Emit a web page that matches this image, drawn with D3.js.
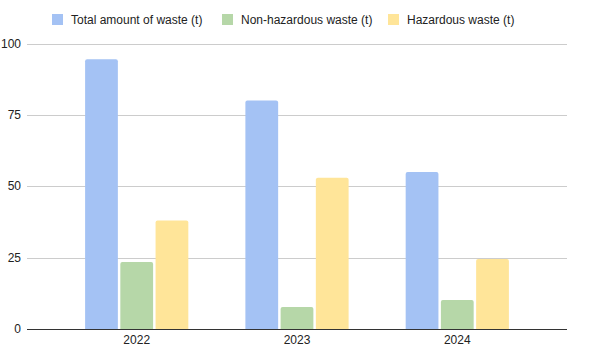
<!DOCTYPE html>
<html><head><meta charset="utf-8">
<script src="https://cdn.jsdelivr.net/npm/d3@7"></script>
<style>body{margin:0;background:#fff;} svg{display:block;font-family:Arial,"Liberation Sans",sans-serif;}</style>
</head><body><svg id="c" width="590" height="357"></svg>
<script>
const categories = ["2022", "2023", "2024"];
const seriesNames = ["Total amount of waste (t)", "Non-hazardous waste (t)", "Hazardous waste (t)"];
const totalWaste = [94.5, 80, 55];
const nonHazardous = [23.5, 7.7, 10.2];
const hazardous = [38, 53, 24.5];
const yTicks = [0, 25, 50, 75, 100];
const colors = ["#a4c2f4", "#b6d7a8", "#ffe599"];

(function () {
const seriesValues = [totalWaste, nonHazardous, hazardous];
const svg = d3.select("#c");
const pLeft = 27, pRight = 567, pTop = 43.5, pBottom = 329;

const x0 = d3.scaleBand().domain(categories).range([pLeft, pRight]).paddingInner(0.356).paddingOuter(0.3625);
const x1 = d3.scaleBand().domain(seriesNames).range([0, x0.bandwidth()]).paddingInner(0.07);
const y = d3.scaleLinear().domain([0, 100]).range([pBottom, pTop]);

svg.append("g").selectAll("line").data(yTicks.filter(d => d > 0)).join("line")
  .attr("x1", pLeft).attr("x2", pRight)
  .attr("y1", d => Math.round(y(d)) + 0.5).attr("y2", d => Math.round(y(d)) + 0.5)
  .attr("stroke", "#cccccc").attr("stroke-width", 1);

svg.append("g").selectAll("text").data(yTicks).join("text")
  .attr("x", 21).attr("y", d => y(d)).attr("dy", "0.35em")
  .attr("text-anchor", "end").attr("font-size", 12).attr("fill", "#222")
  .text(d => d);

const groups = svg.append("g").selectAll("g").data(categories).join("g")
  .attr("transform", c => `translate(${x0(c)},0)`);
groups.selectAll("path").data((c, i) => seriesNames.map((s, j) => ({s, j, v: seriesValues[j][i]}))).join("path")
  .attr("fill", d => colors[d.j])
  .attr("d", d => {
    const xa = x1(d.s), w = x1.bandwidth(), yt = y(d.v), yb = y(0), r = 2;
    return `M${xa},${yb}V${yt + r}Q${xa},${yt} ${xa + r},${yt}H${xa + w - r}Q${xa + w},${yt} ${xa + w},${yt + r}V${yb}Z`;
  });

svg.append("line").attr("x1", pLeft).attr("x2", pRight)
  .attr("y1", pBottom + 0.5).attr("y2", pBottom + 0.5).attr("stroke", "#333").attr("stroke-width", 1);

svg.append("g").selectAll("text").data(categories).join("text")
  .attr("x", c => x0(c) + x0.bandwidth() / 2).attr("y", 344)
  .attr("text-anchor", "middle").attr("font-size", 12).attr("fill", "#222")
  .text(c => c);

const legendX = [52, 222, 388];
const lg = svg.append("g").selectAll("g").data(seriesNames).join("g")
  .attr("transform", (d, i) => `translate(${legendX[i]},14)`);
lg.append("rect").attr("width", 11).attr("height", 11).attr("fill", (d, i) => colors[i]);
lg.append("text").attr("x", 19).attr("y", 5.5).attr("dy", "0.35em")
  .attr("font-size", 12).attr("fill", "#222").text(d => d);
})();
</script></body></html>
